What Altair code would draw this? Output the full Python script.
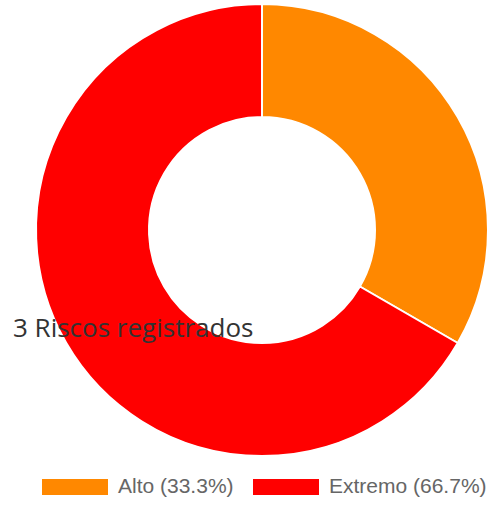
import altair as alt
import pandas as pd

categories = ["Alto", "Extremo"]
counts = [1, 2]
labels = ["Alto (33.3%)", "Extremo (66.7%)"]
colors = ["#FF8800", "#FF0000"]
center_text = ["3 Riscos registrados"]

df = pd.DataFrame({"cat": categories, "n": counts, "label": labels, "order": [0, 1]})

arc = alt.Chart(df).mark_arc(outerRadius=226, innerRadius=113, stroke="white", strokeWidth=2).encode(
    theta=alt.Theta("n:Q", stack=True),
    order=alt.Order("order:Q"),
    color=alt.Color(
        "label:N",
        scale=alt.Scale(domain=labels, range=colors),
        legend=alt.Legend(
            title=None,
            orient="none",
            legendX=10,
            legendY=454,
            direction="horizontal",
            columns=2,
            symbolType="M-1,-0.24L1,-0.24L1,0.24L-1,0.24Z",
            symbolSize=4356,
            symbolStrokeWidth=0,
            labelFont="Liberation Sans",
            labelFontSize=21,
            labelColor="#666666",
            labelOffset=10,
            columnPadding=19,
            padding=0,
            labelLimit=300,
        ),
    ),
)

txt = alt.Chart(pd.DataFrame({"t": center_text})).mark_text(
    align="left", baseline="alphabetic", font="Open Sans", fontSize=26, color="#333333"
).encode(text="t:N", x=alt.value(-19), y=alt.value(337))

chart = alt.layer(arc, txt).properties(
    width=460,
    height=460,
    autosize=alt.AutoSizeParams(type="none"),
    padding={"left": 32, "top": 0, "right": 3, "bottom": 50},
).configure_view(stroke=None)

chart.save("out.html", embed_options={"renderer": "svg", "actions": False})
